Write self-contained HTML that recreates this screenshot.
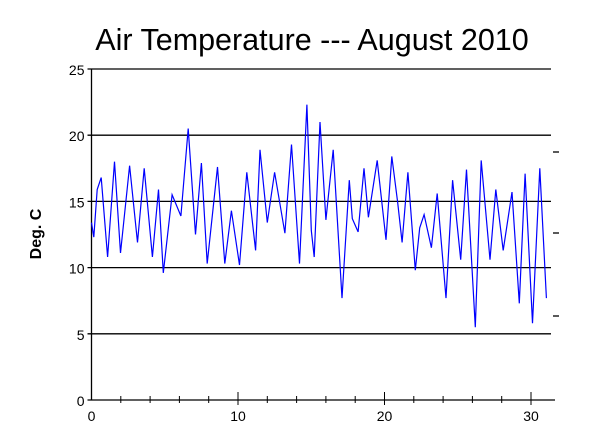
<!DOCTYPE html>
<html><head><meta charset="utf-8"><style>
body{margin:0;background:#fff;}
svg{display:block;font-family:"Liberation Sans",Arial,sans-serif;}
</style></head><body>
<svg id="chart" width="602" height="448">
<text x="312" y="50" text-anchor="middle" font-size="30.5">Air Temperature --- August 2010</text>
<text x="0" y="0" transform="translate(41,234) rotate(-90)" text-anchor="middle" font-size="16" font-weight="bold">Deg. C</text>
<g id="grid"></g><g id="axes"></g><g id="series"></g>
</svg>
<script>
const yTicks=[0,5,10,15,20,25];
const xTicks=[0,10,20,30];
const days=[0,0.16,0.39,0.66,1.1,1.57,1.98,2.6,3.14,3.6,4.16,4.57,4.9,5.5,6.1,6.6,7.1,7.5,7.9,8.6,9.1,9.55,10.1,10.6,11.2,11.5,12.0,12.5,13.2,13.65,14.2,14.7,15.0,15.2,15.6,16.0,16.5,17.1,17.6,17.8,18.2,18.6,18.9,19.5,20.1,20.5,20.9,21.2,21.6,22.1,22.4,22.7,23.2,23.6,24.2,24.65,25.2,25.6,26.2,26.6,27.2,27.6,28.1,28.7,29.2,29.6,30.1,30.6,31.05];
const temps=[13.4,12.3,15.9,16.8,10.8,18.0,11.1,17.7,11.9,17.5,10.8,15.9,9.6,15.5,13.9,20.5,12.5,17.9,10.3,17.6,10.3,14.3,10.2,17.2,11.3,18.9,13.4,17.2,12.6,19.3,10.3,22.3,12.8,10.8,21.0,13.6,18.9,7.7,16.6,13.7,12.7,17.5,13.8,18.1,12.1,18.4,14.9,11.9,17.2,9.8,13.0,14.0,11.5,15.6,7.7,16.6,10.6,17.4,5.5,18.1,10.6,15.9,11.3,15.7,7.3,17.1,5.8,17.5,7.7];
const X0=91.5,PX=14.65,Y0=400,PY=13.24,XEND=555;
const sx=d=>X0+d*PX, sy=t=>Y0-t*PY;
const NS="http://www.w3.org/2000/svg";
function mk(tag,attrs,parent){const e=document.createElementNS(NS,tag);for(const k in attrs)e.setAttribute(k,attrs[k]);parent.appendChild(e);return e;}
const grid=document.getElementById('grid'),axes=document.getElementById('axes'),series=document.getElementById('series');
yTicks.forEach(v=>{
  const l=mk('line',{x1:sx(0)-4,x2:v===0?XEND:551,y1:sy(v),y2:sy(v),stroke:'#000','stroke-width':1.3},grid);
  
  
  const t=mk('text',{x:sx(0)-7,y:sy(v)+6,'text-anchor':'end','font-size':14},axes);
  t.textContent=v;
  
  
});
const ya=mk('line',{x1:sx(0),x2:sx(0),y1:sy(25),y2:Y0,stroke:'#000','stroke-width':1.3},axes);


for(let d=2;d<=30;d+=2){
  const maj=d%10===0;
  const tk=mk('line',{x1:sx(d),x2:sx(d),y1:maj?392:396,y2:maj?405:403,stroke:'#000','stroke-width':1},axes);
  
  
}
xTicks.forEach(v=>{
  const t=mk('text',{x:sx(v),y:421,'text-anchor':'middle','font-size':14},axes);
  t.textContent=v;
  
  
});
[152,233,316].forEach(y=>{
  const r=mk('line',{x1:553,x2:559,y1:y,y2:y,stroke:'#000','stroke-width':1.3},axes);
  
  
});
let d='';
days.forEach((v,i)=>{d+=(i?'L':'M')+sx(v).toFixed(1)+','+sy(temps[i]).toFixed(1);});
const p=mk('path',{d:d,fill:'none',stroke:'#0000ff','stroke-width':1.2},series);


</script>
</body></html>
